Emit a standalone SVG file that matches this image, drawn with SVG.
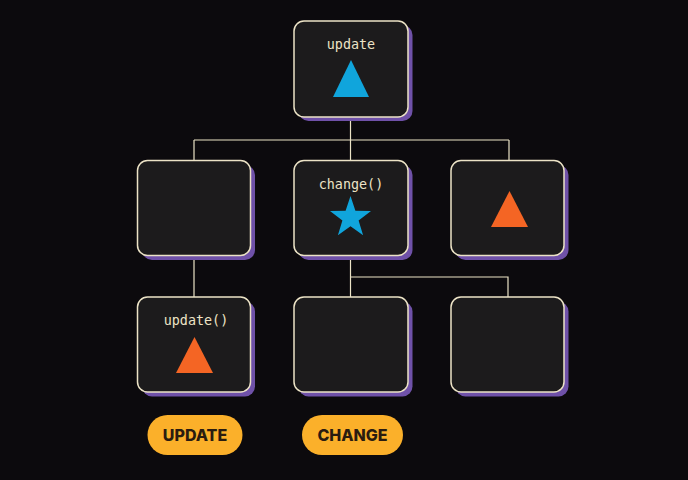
<svg xmlns="http://www.w3.org/2000/svg" width="688" height="480" viewBox="0 0 688 480">
<defs>
<style>
.bg{fill:#0c0a0d}
.sh{fill:#6f51a8}
.box{fill:#1c1b1c;stroke:#ece3c6;stroke-width:1.5}
.lbl{font-family:"DejaVu Sans Mono","Liberation Mono",monospace;font-size:13.4px;fill:#ece3c6;text-anchor:middle}
.blue{fill:#10a5dc}
.orange{fill:#f46524}
.conn{fill:none;stroke:#ece3c6;stroke-width:1.2}
.pill{fill:#fbb02a}
.ptxt{font-family:Inter,"Liberation Sans",sans-serif;font-weight:800;font-size:16px;fill:#2a1c10;text-anchor:middle}
</style>
</defs>
<rect class="bg" x="0" y="0" width="688" height="480"/>
<g id="connectors">
<path class="conn" d="M350.5 117V140M194 140H509M194 140V161M350.5 140V161M509 140V161"/>
<path class="conn" d="M194 256V297M350.5 256V277H508V297M350.5 277V297"/>
</g>
<g id="node-top">
<rect class="sh" x="298.5" y="25" width="114" height="96" rx="10"/>
<rect class="box" x="294" y="21" width="114" height="96" rx="10"/>
<text class="lbl" x="351" y="49">update</text>
<polygon class="blue" points="351,60 333,97 369,97"/>
</g>
<g id="node-mid-left">
<rect class="sh" x="142" y="165" width="113" height="95" rx="10"/>
<rect class="box" x="137.5" y="160.5" width="113" height="95" rx="10"/>
</g>
<g id="node-mid-center">
<rect class="sh" x="298.5" y="165" width="114" height="95" rx="10"/>
<rect class="box" x="294" y="160.5" width="114" height="95" rx="10"/>
<text class="lbl" x="351" y="189">change()</text>
<polygon class="blue" points="350.5,196 355.4,210.8 371,211 358.6,220.4 363.1,235.2 350.5,226.3 337.9,235.2 342.4,220.4 330,211 345.6,210.8"/>
</g>
<g id="node-mid-right">
<rect class="sh" x="455.5" y="165" width="113" height="95" rx="10"/>
<rect class="box" x="451" y="160.5" width="113" height="95" rx="10"/>
<polygon class="orange" points="509.5,191 491,227 528,227"/>
</g>
<g id="node-bot-left">
<rect class="sh" x="142" y="301.5" width="113" height="95" rx="10"/>
<rect class="box" x="137.5" y="297" width="113" height="95" rx="10"/>
<text class="lbl" x="196" y="325">update()</text>
<polygon class="orange" points="194.5,337 176,373 213,373"/>
</g>
<g id="node-bot-center">
<rect class="sh" x="298.5" y="301.5" width="114" height="95" rx="10"/>
<rect class="box" x="294" y="297" width="114" height="95" rx="10"/>
</g>
<g id="node-bot-right">
<rect class="sh" x="455.5" y="301.5" width="113" height="95" rx="10"/>
<rect class="box" x="451" y="297" width="113" height="95" rx="10"/>
</g>
<g id="pill-update">
<rect class="pill" x="147.5" y="415" width="95" height="40" rx="20"/>
<text class="ptxt" x="195" y="441">UPDATE</text>
</g>
<g id="pill-change">
<rect class="pill" x="302" y="415" width="101" height="40" rx="20"/>
<text class="ptxt" x="352.5" y="441">CHANGE</text>
</g>
</svg>
